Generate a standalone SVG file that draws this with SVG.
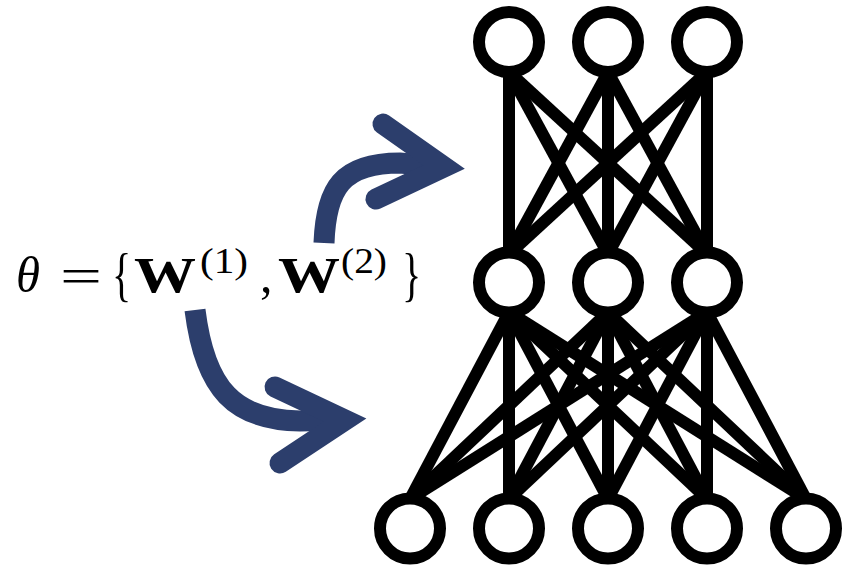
<svg xmlns="http://www.w3.org/2000/svg" width="844" height="566" viewBox="0 0 844 566">
  <style>
    .edge { stroke: #000; stroke-width: 12; fill: none; }
    .neuron { fill: #fff; stroke: #000; stroke-width: 12; }
    .shaft { fill: none; stroke: #2c3e6c; stroke-width: 21; stroke-linecap: butt; }
    .head { fill: none; stroke: #2c3e6c; stroke-width: 21; stroke-linecap: round; stroke-linejoin: miter; stroke-miterlimit: 6; }
    .math { font-family: "Liberation Serif", "DejaVu Serif", serif; fill: #000; }
  </style>
  <rect width="844" height="566" fill="#fff"/>

  <!-- weights: hidden-to-output (top) and input-to-hidden (bottom) -->
  <g id="connectors">
    <g id="w2">
      <line class="edge" x1="509" y1="72" x2="509" y2="254"/>
      <line class="edge" x1="509" y1="72" x2="608" y2="254"/>
      <line class="edge" x1="509" y1="72" x2="707" y2="254"/>
      <line class="edge" x1="608" y1="72" x2="509" y2="254"/>
      <line class="edge" x1="608" y1="72" x2="608" y2="254"/>
      <line class="edge" x1="608" y1="72" x2="707" y2="254"/>
      <line class="edge" x1="707" y1="72" x2="509" y2="254"/>
      <line class="edge" x1="707" y1="72" x2="608" y2="254"/>
      <line class="edge" x1="707" y1="72" x2="707" y2="254"/>
    </g>
    <g id="w1">
      <line class="edge" x1="410" y1="499" x2="509" y2="312"/>
      <line class="edge" x1="410" y1="499" x2="608" y2="312"/>
      <line class="edge" x1="410" y1="499" x2="707" y2="312"/>
      <line class="edge" x1="509" y1="499" x2="509" y2="312"/>
      <line class="edge" x1="509" y1="499" x2="608" y2="312"/>
      <line class="edge" x1="509" y1="499" x2="707" y2="312"/>
      <line class="edge" x1="608" y1="499" x2="509" y2="312"/>
      <line class="edge" x1="608" y1="499" x2="608" y2="312"/>
      <line class="edge" x1="608" y1="499" x2="707" y2="312"/>
      <line class="edge" x1="707" y1="499" x2="509" y2="312"/>
      <line class="edge" x1="707" y1="499" x2="608" y2="312"/>
      <line class="edge" x1="707" y1="499" x2="707" y2="312"/>
      <line class="edge" x1="806" y1="499" x2="509" y2="312"/>
      <line class="edge" x1="806" y1="499" x2="608" y2="312"/>
      <line class="edge" x1="806" y1="499" x2="707" y2="312"/>
    </g>
  </g>

  <!-- output layer -->
  <g id="out1"><circle class="neuron" cx="509" cy="42" r="30"/></g>
  <g id="out2"><circle class="neuron" cx="608" cy="42" r="30"/></g>
  <g id="out3"><circle class="neuron" cx="707" cy="42" r="30"/></g>

  <!-- hidden layer -->
  <g id="hid1"><circle class="neuron" cx="509" cy="282.5" r="30"/></g>
  <g id="hid2"><circle class="neuron" cx="608" cy="282.5" r="30"/></g>
  <g id="hid3"><circle class="neuron" cx="707" cy="282.5" r="30"/></g>

  <!-- input layer -->
  <g id="in1"><circle class="neuron" cx="410" cy="528.5" r="30"/></g>
  <g id="in2"><circle class="neuron" cx="509" cy="528.5" r="30"/></g>
  <g id="in3"><circle class="neuron" cx="608" cy="528.5" r="30"/></g>
  <g id="in4"><circle class="neuron" cx="707" cy="528.5" r="30"/></g>
  <g id="in5"><circle class="neuron" cx="806" cy="528.5" r="30"/></g>

  <!-- parameter set label, typeset piece by piece; braces are stretched tall -->
  <g id="theta">
    <text class="math" font-size="50"><tspan font-style="italic" x="16" y="292" textLength="24" lengthAdjust="spacingAndGlyphs">θ</tspan><tspan x="60" y="293" textLength="42" lengthAdjust="spacingAndGlyphs">=</tspan></text>
    <text class="math" font-size="40" transform="translate(112,294) scale(1,1.5)">{</text>
    <text class="math" font-size="50"><tspan font-weight="bold" x="134" y="292" textLength="62" lengthAdjust="spacingAndGlyphs">W</tspan><tspan font-size="36" x="200" y="273" textLength="48" lengthAdjust="spacingAndGlyphs">(1)</tspan><tspan x="260" y="292">,</tspan><tspan font-weight="bold" x="278" y="292" textLength="62" lengthAdjust="spacingAndGlyphs">W</tspan><tspan font-size="36" x="341" y="273" textLength="46" lengthAdjust="spacingAndGlyphs">(2)</tspan></text>
    <text class="math" font-size="40" transform="translate(402,294) scale(1,1.5)">}</text>
  </g>

  <!-- arrow towards the upper weights -->
  <g id="arrow-w2">
    <path class="shaft" d="M324,243 C326,188 342,163 400,163 L444,167"/>
    <path class="head" d="M383,124 L444,167 L376,199"/>
  </g>

  <!-- arrow towards the lower weights -->
  <g id="arrow-w1">
    <path class="shaft" d="M195,310 C205,390 235,420 300,421 L345,420"/>
    <path class="head" d="M275,387 L345,420 L280,463"/>
  </g>
</svg>
